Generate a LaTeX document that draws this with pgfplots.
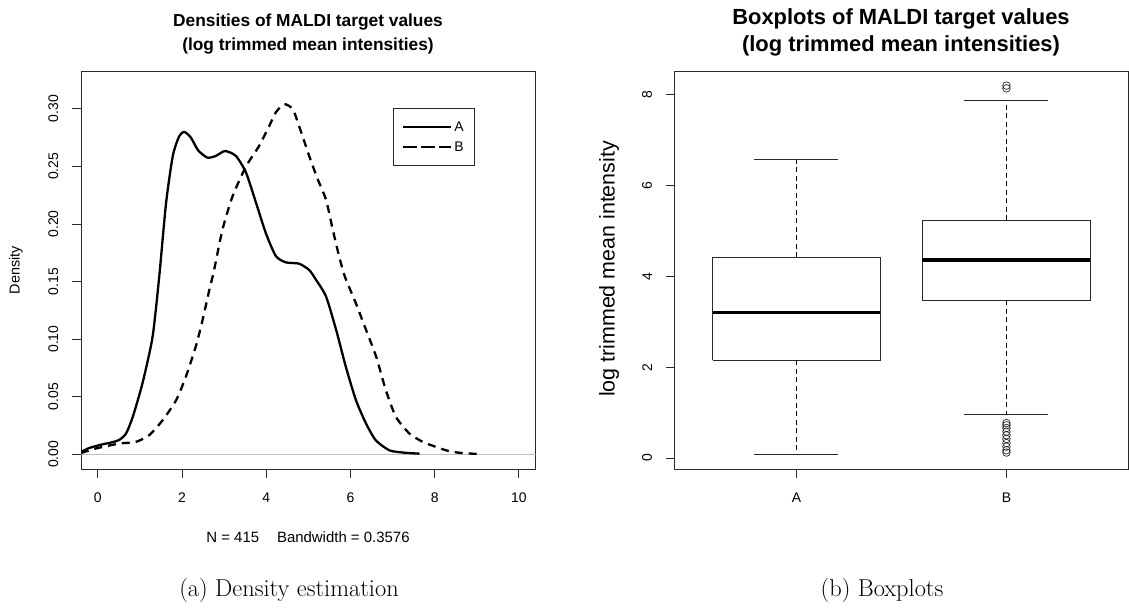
\documentclass[border=0pt]{standalone}
\usepackage{fontspec}
\setsansfont{Liberation Sans}
\usepackage{pgfplots}
\pgfplotsset{compat=1.18}

\definecolor{rgray}{RGB}{190,190,190}
\definecolor{frame}{RGB}{40,40,40}

\pgfplotsset{
  rplot/.style={
    scale only axis,
    axis line style={frame, line width=0.8bp},
    tick align=outside, tick pos=left,
    major tick length=9bp,
    tick style={frame, line width=0.8bp},
    ticklabel style={font=\fontsize{14}{16}\selectfont\sffamily, inner sep=0pt},
    xticklabel style={anchor=north},
    yticklabel style={rotate=90, anchor=south},
    xticklabel shift=14.5bp,
    yticklabel shift=13.5bp,
  },
  rline/.style={black, line width=2.3bp, line join=round},
  rdash/.style={black, line width=2.3bp, dash pattern=on 8bp off 6bp},
}

\begin{document}
\begin{tikzpicture}[x=1bp,y=1bp]
\path[use as bounding box] (0bp,0bp) rectangle (1129bp,608bp);

% (a) densities
\begin{axis}[rplot,
  at={(81bp,139bp)}, anchor=south west,
  width=454.7bp, height=398bp,
  xmin=-0.4, xmax=10.4, ymin=-0.0128, ymax=0.3328,
  xtick={0,2,4,6,8,10}, xticklabels={0,2,4,6,8,10},
  ytick={0,0.05,0.10,0.15,0.20,0.25,0.30},
  yticklabels={0.00,0.05,0.10,0.15,0.20,0.25,0.30},
  legend style={at={(axis cs:7.0,0.3005)}, anchor=north west,
    draw=frame, line width=0.8bp,
    font=\fontsize{14}{16}\selectfont\sffamily,
    inner xsep=9bp, inner ysep=10.5bp, row sep=4bp,
    nodes={inner sep=2bp, text height=10bp, text depth=2bp}},
  legend cell align=left,
  legend image code/.code={\path (-2bp,0bp) -- (46bp,0bp);\draw[#1] (0bp,0bp) -- (30bp,0bp);},
]
\addplot[rgray, line width=1bp, forget plot] coordinates {(-0.4,0) (10.4,0)};
\addplot[rline, smooth, tension=0.4] coordinates {
(-0.40,0.002) (-0.20,0.0055) (0.10,0.0085) (0.35,0.0105) (0.51,0.0125)
(0.67,0.018) (0.83,0.0325) (1.06,0.0616) (1.30,0.102) (1.46,0.155)
(1.62,0.218) (1.78,0.259) (1.93,0.276) (2.05,0.280) (2.21,0.275)
(2.38,0.264) (2.60,0.2576) (2.80,0.259) (3.02,0.2633) (3.28,0.259)
(3.52,0.2445) (3.76,0.218) (3.99,0.192) (4.23,0.172) (4.47,0.1666)
(4.78,0.1655) (5.02,0.160) (5.18,0.1516) (5.42,0.137) (5.66,0.108)
(5.89,0.076) (6.13,0.047) (6.37,0.0267) (6.60,0.0122) (6.92,0.0035)
(7.24,0.0015) (7.64,0.0005)};
\addlegendentry{A}
\addplot[rdash, smooth, tension=0.4,
  legend image post style={dash pattern=on 12bp off 6bp}] coordinates {
(-0.40,0.001) (-0.05,0.005) (0.51,0.0093) (0.90,0.0107) (1.22,0.0166)
(1.54,0.0296) (1.86,0.047) (2.09,0.0673) (2.33,0.094) (2.49,0.117)
(2.65,0.143) (2.75,0.158) (2.96,0.195) (3.20,0.224) (3.52,0.250)
(3.83,0.2677) (4.07,0.285) (4.23,0.297) (4.43,0.304) (4.63,0.2996)
(4.78,0.285) (5.02,0.259) (5.22,0.239) (5.42,0.221) (5.58,0.195)
(5.73,0.172) (5.87,0.154) (6.13,0.131) (6.37,0.108) (6.61,0.0848)
(6.84,0.0557) (7.08,0.0325) (7.40,0.018) (7.72,0.0107) (8.03,0.0064)
(8.35,0.0026) (8.67,0.001) (9.08,0.0002)};
\addlegendentry{B}
\end{axis}

% (b) boxplots
\begin{axis}[rplot,
  at={(674.7bp,139bp)}, anchor=south west,
  width=453.5bp, height=398bp,
  xmin=0.42, xmax=2.58, ymin=-0.242, ymax=8.522,
  xtick={1,2}, xticklabels={A,B},
  ytick={0,2,4,6,8}, yticklabels={0,2,4,6,8},
]
% A
\addplot[frame, line width=0.8bp] coordinates {(0.6,2.15) (1.4,2.15) (1.4,4.42) (0.6,4.42) (0.6,2.15)};
\addplot[black, line width=3.6bp] coordinates {(0.6,3.20) (1.4,3.20)};
\addplot[black, line width=0.8bp, dash pattern=on 5bp off 3.5bp] coordinates {(1,4.42) (1,6.57)};
\addplot[black, line width=0.8bp, dash pattern=on 5bp off 3.5bp] coordinates {(1,2.15) (1,0.08)};
\addplot[frame, line width=0.8bp] coordinates {(0.8,6.57) (1.2,6.57)};
\addplot[frame, line width=0.8bp] coordinates {(0.8,0.08) (1.2,0.08)};
% B
\addplot[frame, line width=0.8bp] coordinates {(1.6,3.47) (2.4,3.47) (2.4,5.24) (1.6,5.24) (1.6,3.47)};
\addplot[black, line width=3.6bp] coordinates {(1.6,4.36) (2.4,4.36)};
\addplot[black, line width=0.8bp, dash pattern=on 5bp off 3.5bp] coordinates {(2,5.24) (2,7.88)};
\addplot[black, line width=0.8bp, dash pattern=on 5bp off 3.5bp] coordinates {(2,3.47) (2,0.97)};
\addplot[frame, line width=0.8bp] coordinates {(1.8,7.88) (2.2,7.88)};
\addplot[frame, line width=0.8bp] coordinates {(1.8,0.97) (2.2,0.97)};
\addplot[only marks, mark=o, mark size=3.8bp, frame, mark options={line width=0.7bp}] coordinates {
(2,8.14) (2,8.20) (2,0.77) (2,0.72) (2,0.66) (2,0.58) (2,0.50) (2,0.42)
(2,0.33) (2,0.25) (2,0.17) (2,0.12)};
\end{axis}

% titles and labels
\node[anchor=base, font=\fontsize{17.4}{19}\selectfont\sffamily\bfseries] at (308bp,581.3bp) {Densities of MALDI target values};
\node[anchor=base, font=\fontsize{17.4}{19}\selectfont\sffamily\bfseries] at (308bp,557bp) {(log trimmed mean intensities)};
\node[rotate=90, font=\fontsize{14.5}{16}\selectfont\sffamily] at (16bp,338bp) {Density};
\node[anchor=base, font=\fontsize{15}{17}\selectfont\sffamily] at (308bp,65.3bp) {N = 415\hspace{1.2em}Bandwidth = 0.3576};
\node[anchor=base, font=\fontsize{24.5}{27}\selectfont] at (289bp,12bp) {(a) Density estimation};

\node[anchor=base, font=\fontsize{22}{25}\selectfont\sffamily\bfseries] at (901bp,583bp) {Boxplots of MALDI target values};
\node[anchor=base, font=\fontsize{22}{25}\selectfont\sffamily\bfseries] at (901bp,556bp) {(log trimmed mean intensities)};
\node[rotate=90, font=\fontsize{21.5}{24}\selectfont\sffamily] at (609bp,339bp) {log trimmed mean intensity};
\node[anchor=base, font=\fontsize{24.5}{27}\selectfont] at (882bp,12bp) {(b) Boxplots};
\end{tikzpicture}
\end{document}
